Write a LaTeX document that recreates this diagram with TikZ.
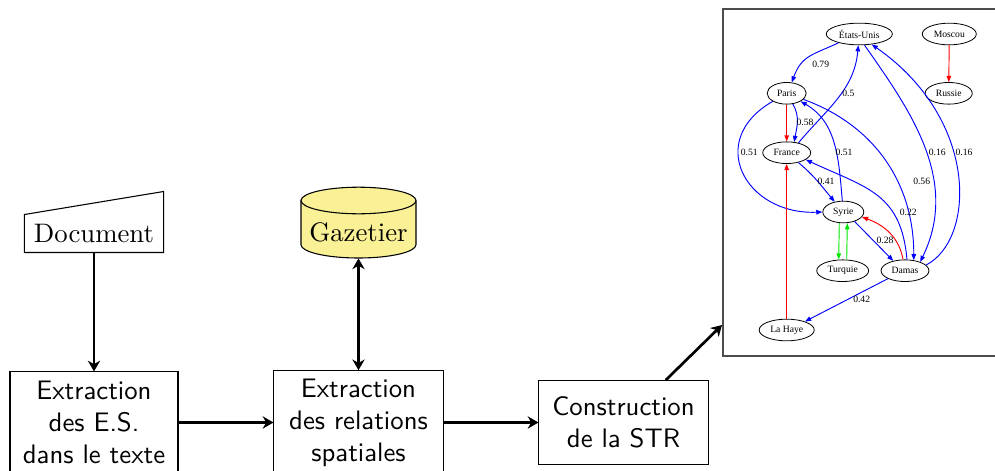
\documentclass[tikz,border=0pt]{standalone}
\usepackage{fontspec}
\newfontfamily\gfont{Liberation Serif}
\usetikzlibrary{arrows.meta,shapes.geometric,calc}
\definecolor{gazfill}{RGB}{250,240,150}
\definecolor{gblue}{RGB}{0,0,255}
\definecolor{gred}{RGB}{255,0,0}
\definecolor{ggreen}{RGB}{0,230,0}
\tikzset{
  box/.style={draw, line width=0.4pt, font=\sffamily, align=center, inner sep=1pt},
  mainarrow/.style={line width=1pt, -{Stealth[length=4pt,width=4.6pt]}},
  mainboth/.style={line width=1pt, {Stealth[length=4pt,width=4.6pt]}-{Stealth[length=4pt,width=4.6pt]}},
  gn/.style={ellipse, draw, line width=0.3pt, inner sep=0pt, minimum height=8.1pt, font=\gfont\fontsize{3.6}{4}\selectfont},
  lab/.style={inner sep=0pt, font=\gfont\fontsize{3.6}{4}\selectfont},
  gtip/.style={-{Triangle[length=2.3pt,width=1.7pt]}},
  gb/.style={gblue, line width=0.35pt, gtip},
  gr/.style={gred, line width=0.35pt, gtip},
  gg/.style={ggreen, line width=0.35pt, gtip},
}
\begin{document}
\begin{tikzpicture}[x=0.3738pt, y=0.3738pt]
\useasboundingbox (0,0) rectangle (995,470);

% --- pipeline ---
\node[inner sep=0pt, minimum width=51.6pt, minimum height=13.8pt] (doc) at (94,236.5) {Document};
\draw[line width=0.4pt] (doc.south west) -- (doc.south east) -- ($(doc.north east)+(0,23)$) -- (doc.north west) -- cycle;

\path[fill=gazfill, draw, line width=0.4pt] (301,269.5) -- (301,225.3)
  arc[start angle=180, end angle=360, x radius=57.5, y radius=13.3] -- (416,269.5)
  arc[start angle=0, end angle=180, x radius=57.5, y radius=13.3] -- cycle;
\draw[line width=0.4pt] (301,269.5) arc[start angle=180, end angle=360, x radius=57.5, y radius=13.3];
\node[inner sep=0pt, minimum width=43pt, minimum height=26.5pt] (gaz) at (358.5,247.5) {};
\node[inner sep=0pt] (gazt) at (358.5,237.5) {Gazetier};

\node[box, minimum width=62.8pt, minimum height=37.8pt] (b1) at (94,47.5) {Extraction\\des E.S.\\dans le texte};
\node[box, minimum width=63.2pt, minimum height=38.7pt] (b2) at (358.5,47.5) {Extraction\\des relations\\spatiales};
\node[box, minimum width=63.2pt, minimum height=31.3pt] (b3) at (623.5,47.5) {Construction\\de la STR};

\node[draw=black!70, line width=0.6pt, inner sep=0pt, minimum width=104.7pt, minimum height=129.7pt] (str) at (863,287.5) {};
\coordinate (strin) at (722,145);

\draw[mainarrow] (doc.south) -- (b1.north);
\draw[mainboth] (gaz.south) -- (b2.north);
\draw[mainarrow] (b1.east) -- (b2.west);
\draw[mainarrow] (b2.east) -- (b3.west);
\draw[mainarrow] ([xshift=15.8pt]b3.north) -- (strin);

% --- graph ---
\node[gn, minimum width=24.7pt] (eu) at (859.3,436) {États-Unis};
\node[gn, minimum width=20.2pt] (mos) at (949.3,436) {Moscou};
\node[gn, minimum width=14.6pt] (par) at (786.7,376.7) {Paris};
\node[gn, minimum width=17.6pt] (rus) at (948.7,376.7) {Russie};
\node[gn, minimum width=17.9pt] (fra) at (786.7,317.3) {France};
\node[gn, minimum width=15.3pt] (syr) at (843.3,258) {Syrie};
\node[gn, minimum width=19.4pt] (tur) at (842.7,199.3) {Turquie};
\node[gn, minimum width=17.9pt] (dam) at (905,199.3) {Damas};
\node[gn, minimum width=20.6pt] (lah) at (786.7,140) {La Haye};

\draw[gb] (eu.203) to[out=205, in=70, looseness=1.2] (par.65);
\draw[gb] (fra.40) to[out=50, in=265] (eu.265);
\draw[gr] (par) -- (fra);
\draw[gb] (par.-60) to[out=-60, in=80] (fra.55);
\draw[gb] (par.210) .. controls (705,330) and (745,255) .. (syr.180);
\draw[gb] (syr.95) to[out=95, in=-30] (par.-30);
\draw[gb] (par.-20) to[out=-20, in=90] (dam.50);
\draw[gb] (eu.-65) .. controls (910,360) and (960,290) .. (dam.30);
\draw[gb] (dam.15) .. controls (975,230) and (980,350) .. (eu.-40);
\draw[gb] (dam.80) to[out=95, in=-25, looseness=1.2] (fra.-20);
\draw[gb] (fra.-40) to[out=-40, in=130] (syr.130);
\draw[gg] ([xshift=-1.5pt]syr.south) -- ([xshift=-1.5pt]tur.north);
\draw[gg] ([xshift=1.5pt]tur.north) -- ([xshift=1.5pt]syr.south);
\draw[gb] (syr.-40) -- (dam.140);
\draw[gr] (dam.100) to[out=100, in=-20] (syr.-15);
\draw[gb] (dam.-155) -- (lah.25);
\draw[gr] (lah) -- (fra);
\draw[gr] (mos) -- (rus);

\node[lab] at (820.7,405.7) {0.79};
\node[lab] at (848.3,376.7) {0.5};
\node[lab] at (805,347.7) {0.58};
\node[lab] at (749.3,317.3) {0.51};
\node[lab] at (844,317.3) {0.51};
\node[lab] at (937.3,317.3) {0.16};
\node[lab] at (964,317.3) {0.16};
\node[lab] at (826,289) {0.41};
\node[lab] at (921.7,289) {0.56};
\node[lab] at (908.3,258) {0.22};
\node[lab] at (885,229.3) {0.28};
\node[lab] at (861.7,170.7) {0.42};
\end{tikzpicture}
\end{document}
